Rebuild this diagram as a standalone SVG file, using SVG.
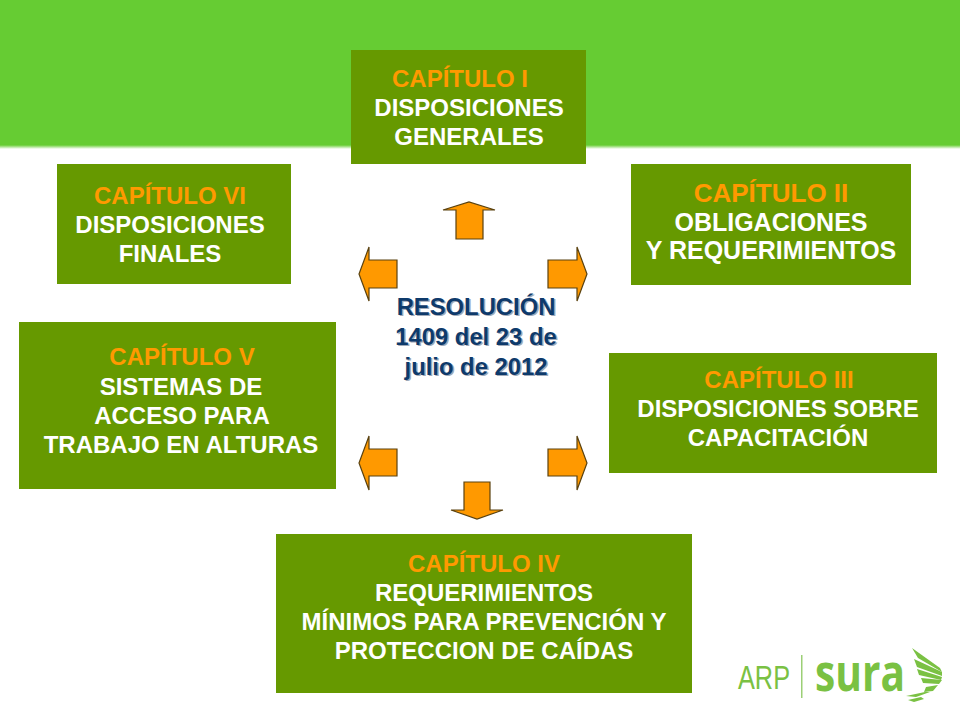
<svg xmlns="http://www.w3.org/2000/svg" width="960" height="720" viewBox="0 0 960 720">
<style>
.box{fill:#669900}
text{font-family:"Liberation Sans",Arial,sans-serif;font-weight:700;text-anchor:middle}
.w{fill:#fff;font-size:24px}
.o{fill:#ff9900;font-size:24px}
.w2{fill:#fff;font-size:25px}
.o2{fill:#ff9900;font-size:26px}
.arrow{fill:#ff9900;stroke:#5a4210;stroke-width:1.2;stroke-linejoin:miter}
.res{fill:#0e3a6b;font-size:23.800px}
.shadow{fill:#9fa9b8;font-size:23.800px}
.wing{fill:#7ac143}
</style>
<defs><linearGradient id="fade" x1="0" y1="0" x2="0" y2="1"><stop offset="0" stop-color="#66cc33"/><stop offset="1" stop-color="#ffffff"/></linearGradient></defs>
<rect width="960" height="720" fill="#ffffff"/>
<rect width="960" height="145" fill="#66cc33"/>
<rect y="145" width="960" height="4" fill="url(#fade)"/>
<g id="connectors">
<polygon class="arrow" points="456,239 483,239 483,210 495,210 469,202 443,210 456,210"/>
<polygon class="arrow" points="397,260 369,260 369,247 359,274 369,301 369,288 397,288"/>
<polygon class="arrow" points="548,260 577,260 577,247 587,274 577,301 577,288 548,288"/>
<polygon class="arrow" points="397,449 369,449 369,436 359,463 369,490 369,476 397,476"/>
<polygon class="arrow" points="548,449 577,449 577,436 587,463 577,490 577,476 548,476"/>
<polygon class="arrow" points="464,482 490,482 490,510 503,510 477,519 451,510 464,510"/>
</g>
<g id="centre">
<text class="shadow" x="477.500" y="316">RESOLUCIÓN</text>
<text class="shadow" x="477.500" y="346">1409 del 23 de</text>
<text class="shadow" x="477.500" y="376">julio de 2012</text>
<text class="res" x="476" y="314.500">RESOLUCIÓN</text>
<text class="res" x="476" y="344.500">1409 del 23 de</text>
<text class="res" x="476" y="374.500">julio de 2012</text>
</g>
<g id="cap1">
<rect class="box" x="351" y="50" width="235" height="114"/>
<text class="o" x="460" y="87">CAPÍTULO I</text>
<text class="w" x="469" y="116">DISPOSICIONES</text>
<text class="w" x="469" y="145">GENERALES</text>
</g>
<g id="cap2">
<rect class="box" x="631" y="164" width="280" height="121"/>
<text class="o2" x="771" y="202">CAPÍTULO II</text>
<text class="w2" x="771" y="231">OBLIGACIONES</text>
<text class="w2" x="771" y="259">Y REQUERIMIENTOS</text>
</g>
<g id="cap3">
<rect class="box" x="609" y="353" width="328" height="120"/>
<text class="o" x="779" y="388">CAPÍTULO III</text>
<text class="w" x="778" y="417">DISPOSICIONES SOBRE</text>
<text class="w" x="778" y="446">CAPACITACIÓN</text>
</g>
<g id="cap4">
<rect class="box" x="276" y="534" width="416" height="159"/>
<text class="o" x="484" y="572">CAPÍTULO IV</text>
<text class="w" x="484" y="601">REQUERIMIENTOS</text>
<text class="w" x="484" y="630">MÍNIMOS PARA PREVENCIÓN Y</text>
<text class="w" x="484" y="659">PROTECCION DE CAÍDAS</text>
</g>
<g id="cap5">
<rect class="box" x="19" y="322" width="317" height="167"/>
<text class="o" x="182" y="365">CAPÍTULO V</text>
<text class="w" x="181" y="395">SISTEMAS DE</text>
<text class="w" x="182" y="424">ACCESO PARA</text>
<text class="w" x="181" y="453">TRABAJO EN ALTURAS</text>
</g>
<g id="cap6">
<rect class="box" x="57" y="164" width="234" height="120"/>
<text class="o" x="170" y="204">CAPÍTULO VI</text>
<text class="w" x="170" y="233">DISPOSICIONES</text>
<text class="w" x="170" y="262">FINALES</text>
</g>
<g id="logo">
<text x="764" y="689" style="font-weight:400;font-size:33px" fill="#7ac143" textLength="52" lengthAdjust="spacingAndGlyphs">ARP</text>
<rect x="801" y="655" width="1.500" height="43" fill="#9ccf76"/>
<text x="860" y="691" style="font-size:52px;font-family:'Open Sans',sans-serif;font-weight:700" fill="#7ac143" textLength="90" lengthAdjust="spacingAndGlyphs">sura</text>
<path class="wing" d="M912,648 L940,668 L942,672 L918,658Z"/>
<path class="wing" d="M914,659 L942,672 L942,676 L917,667Z"/>
<path class="wing" d="M917,669 L942,677 L941,680 L919,675Z"/>
<path class="wing" d="M921,678 L942,680 L939,684 L923,683Z"/>
<path class="wing" d="M926,687 L938,685 L933,691 L924,692Z"/>
<path class="wing" d="M906,696 L925,692 L930,692 L916,697Z"/>
<path class="wing" d="M908,700 L921,697 L924,699 L914,702Z"/>
</g>
</svg>
